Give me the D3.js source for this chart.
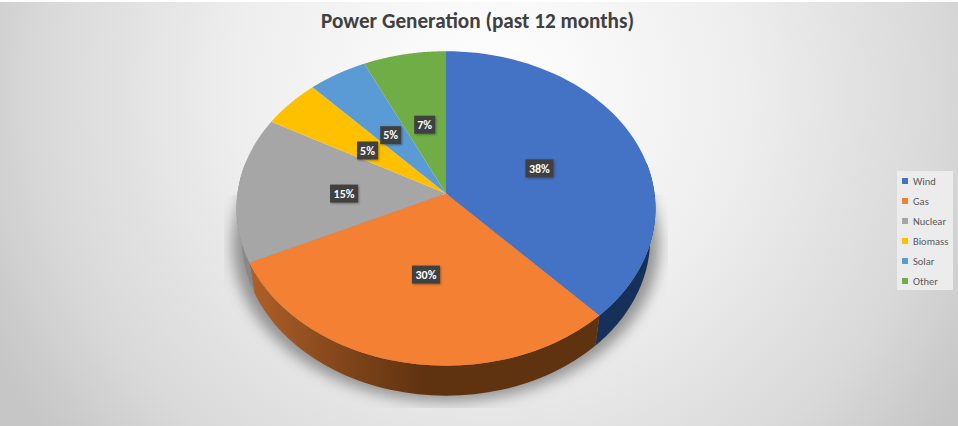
<html>
    <head>
        <style>
            html, body { margin: 0; padding: 0; background: #e3e3e3; }
            svg { display: block; font-family: Carlito, "Liberation Sans", "Open Sans", sans-serif; }
        </style>
    </head>
    <body>

        <svg id="chart"></svg>

        <script src="https://cdn.jsdelivr.net/npm/d3@7"></script>
        <script>

            let categories = ["Wind", "Gas", "Nuclear", "Biomass", "Solar", "Other"];
            let shares = [38, 30, 15, 5, 5, 7];
            let topColors = ["#4472c4", "#f38033", "#a6a6a6", "#ffc000", "#5b9bd5", "#70ad47"];
            let sideColors = ["#16305a", "#7a4018", "#85898d", "#8a6900", "#2f5f8c", "#3f6626"];

            let width = 958;
            let height = 426;
            let svg = d3.select("#chart").attr("width", width).attr("height", height);
            let defs = svg.append("defs");

            // page background
            let bg = defs.append("radialGradient").attr("id", "bg")
                .attr("gradientUnits", "userSpaceOnUse")
                .attr("cx", 490).attr("cy", 90).attr("r", 560);
            bg.append("stop").attr("offset", 0).attr("stop-color", "#ffffff");
            bg.append("stop").attr("offset", 0.45).attr("stop-color", "#eeeeee");
            bg.append("stop").attr("offset", 0.8).attr("stop-color", "#d9d9d9");
            bg.append("stop").attr("offset", 1).attr("stop-color", "#c6c6c6");
            svg.append("rect").attr("width", width).attr("height", height).attr("fill", "url(#bg)");
            svg.append("rect").attr("width", width).attr("height", 2).attr("fill", "#ffffff");

            // pie is a tilted circle, so project it with a little perspective
            let cx = 446, cy = 193.5, rx = 208.5, ry = 155.8, k = 0.095, depth = 30, lowerScale = 0.975;
            let scaleX = d3.scaleLinear().domain([-1, 1]).range([cx - rx, cx + rx]);
            let scaleY = d3.scaleLinear().domain([-1, 1]).range([cy - ry, cy + ry]);

            function project(a, drop, shrink) {
                let X = Math.sin(a);
                let Y = -Math.cos(a);
                let w = 1 - k * Y;
                return [scaleX(X * (shrink || 1) / w), scaleY(Y / w) + (drop || 0)];
            }

            function rimPoints(a0, a1, drop, shrink) {
                return d3.range(0, 61).map(i => project(a0 + (a1 - a0) * i / 60, drop, shrink));
            }

            let line = d3.line();
            let pie = d3.pie().sort(null);
            let slices = pie(shares);

            // soft shadow under the pie, cut off by the plot area
            let blur = defs.append("filter").attr("id", "blur")
                .attr("x", "-20%").attr("y", "-20%").attr("width", "140%").attr("height", "140%");
            blur.append("feGaussianBlur").attr("stdDeviation", 7);
            defs.append("clipPath").attr("id", "shadowClip")
                .append("rect")
                .attr("x", 224).attr("y", 195)
                .attr("width", 444).attr("height", 213);
            svg.append("g")
                .attr("clip-path", "url(#shadowClip)")
                .append("path")
                .attr("d", line(rimPoints(0, 2 * Math.PI, 36, 1.02)) + "Z")
                .attr("fill", "#727272")
                .attr("opacity", 0.72)
                .attr("filter", "url(#blur)");

            // side wall, only the part that faces the viewer
            let sideFade = defs.append("linearGradient").attr("id", "sideFade")
                .attr("gradientUnits", "userSpaceOnUse")
                .attr("x1", 250).attr("x2", 600).attr("y1", 0).attr("y2", 0);
            sideFade.append("stop").attr("offset", 0).attr("stop-color", "#b0602a");
            sideFade.append("stop").attr("offset", 0.25).attr("stop-color", "#84471b");
            sideFade.append("stop").attr("offset", 0.5).attr("stop-color", "#5f3210");
            sideFade.append("stop").attr("offset", 1).attr("stop-color", "#5f3210");

            let front0 = Math.PI / 2 - 0.2;
            let front1 = 3 * Math.PI / 2 + 0.2;
            let sides = slices.map(s => [Math.max(s.startAngle, front0), Math.min(s.endAngle, front1)]);

            svg.append("g").selectAll("path")
                .data(slices)
                .enter()
                .filter((d, i) => sides[i][0] < sides[i][1])
                .append("path")
                .attr("d", d => {
                    let i = d.index;
                    let upper = rimPoints(sides[i][0], sides[i][1], 0);
                    let lower = rimPoints(sides[i][0], sides[i][1], depth, lowerScale).reverse();
                    return line(upper.concat(lower)) + "Z";
                })
                .attr("fill", d => d.index == 1 ? "url(#sideFade)" : sideColors[d.index]);

            // top face
            svg.append("g").selectAll("path")
                .data(slices)
                .enter()
                .append("path")
                .attr("d", d => line([[cx, cy]].concat(rimPoints(d.startAngle, d.endAngle, 0))) + "Z")
                .attr("fill", (d, i) => topColors[i]);

            // data labels
            let labelShadow = defs.append("filter").attr("id", "labelShadow")
                .attr("x", "-30%").attr("y", "-30%").attr("width", "160%").attr("height", "160%");
            labelShadow.append("feDropShadow")
                .attr("dx", 1).attr("dy", 1).attr("stdDeviation", 1)
                .attr("flood-color", "#000").attr("flood-opacity", 0.35);

            let labelRadius = 0.49;
            let labels = svg.append("g").selectAll("g")
                .data(slices)
                .enter()
                .append("g")
                .attr("transform", d => {
                    let mid = (d.startAngle + d.endAngle) / 2;
                    let X = labelRadius * Math.sin(mid);
                    let Y = -labelRadius * Math.cos(mid);
                    let w = 1 - k * Y;
                    return "translate(" + scaleX(X / w) + "," + (scaleY(Y / w) + 2.5) + ")";
                });

            labels.append("rect")
                .attr("x", d => d.data >= 10 ? -14 : -10.5)
                .attr("width", d => d.data >= 10 ? 28 : 21)
                .attr("y", -9)
                .attr("height", 18)
                .attr("fill", "#404040")
                .attr("filter", "url(#labelShadow)");

            labels.append("text")
                .attr("text-anchor", "middle")
                .attr("dy", "0.35em")
                .attr("fill", "#ffffff")
                .attr("font-size", 12)
                .attr("font-weight", "bold")
                .text(d => d.data + "%");

            // title
            svg.append("text")
                .attr("x", 477.5)
                .attr("y", 28)
                .attr("text-anchor", "middle")
                .attr("fill", "#404040")
                .attr("font-size", 21.2)
                .attr("font-weight", "bold")
                .text("Power Generation (past 12 months)");

            // legend
            let legendY = d3.scalePoint().domain(categories).range([181, 281]);
            svg.append("rect")
                .attr("x", 897).attr("y", 171)
                .attr("width", 56).attr("height", 119)
                .attr("fill", "#ececec");

            let legend = svg.append("g").selectAll("g")
                .data(categories)
                .enter()
                .append("g")
                .attr("transform", d => "translate(902," + legendY(d) + ")");

            legend.append("rect")
                .attr("x", 0).attr("y", -3)
                .attr("width", 6).attr("height", 6)
                .attr("fill", (d, i) => topColors[i]);

            legend.append("text")
                .attr("x", 11)
                .attr("dy", "0.35em")
                .attr("fill", "#595959")
                .attr("font-size", 10.5)
                .text(d => d);

        </script>
    </body>
</html>
